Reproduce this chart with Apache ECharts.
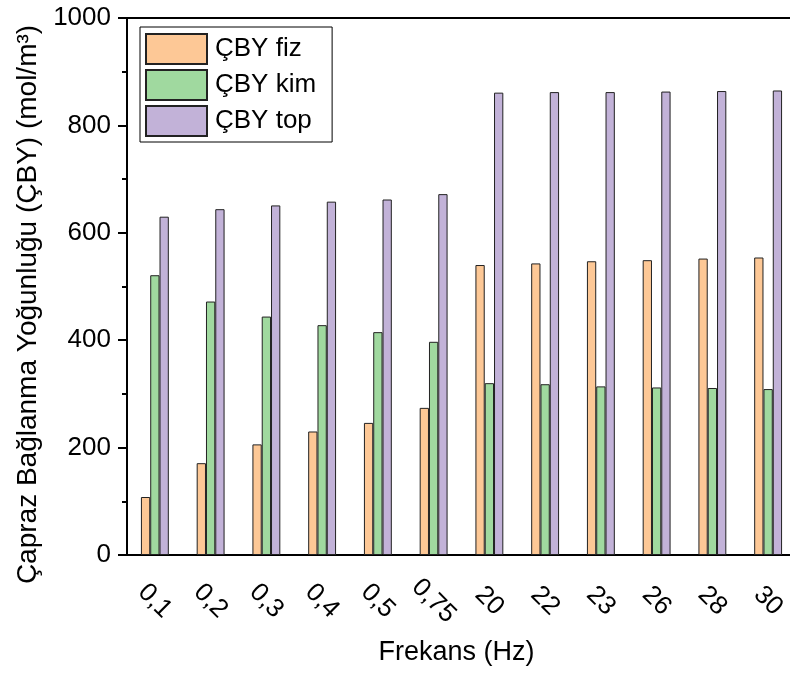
<!DOCTYPE html>
<html>
<head>
<meta charset="utf-8">
<script src="https://cdn.jsdelivr.net/npm/echarts@6/dist/echarts.min.js"></script>
<style>
  html, body { margin: 0; padding: 0; background: #fff; }
  #chart { width: 790px; height: 675px; }
</style>
</head>
<body>
<div id="chart"></div>
<script>
const categories = ['0,1', '0,2', '0,3', '0,4', '0,5', '0,75', '20', '22', '23', '26', '28', '30']
const cbyFiz = [108, 171, 206, 230, 246, 274, 540, 543, 547, 549, 552, 554]
const cbyKim = [521, 472, 444, 428, 415, 397, 320, 318, 314, 312, 311, 309]
const cbyTop = [630, 644, 651, 658, 662, 672, 861, 862, 862, 863, 864, 865]
const yTicks = [0, 200, 400, 600, 800, 1000]

const font = '"Liberation Sans", Arial, sans-serif'
const barBorder = { borderColor: '#222', borderWidth: 1 }
const axisText = { fontSize: 26, fontFamily: font, color: '#000' }

let chart = echarts.init(document.getElementById('chart'))
chart.setOption({
  animation: false,
  textStyle: { fontFamily: font, color: '#000' },
  grid: {
    left: 127, top: 18, right: -6, bottom: 120,
    outerBoundsMode: 'none',
    containLabel: false
  },
  legend: {
    orient: 'vertical',
    left: 140, top: 27,
    padding: [6, 16, 5, 5],
    itemGap: 4,
    itemWidth: 61, itemHeight: 30,
    borderColor: '#000', borderWidth: 1,
    icon: 'rect',
    textStyle: { fontSize: 26, lineHeight: 30, fontFamily: font, color: '#000', padding: [0, 0, 0, 3] },
    data: ['ÇBY fiz', 'ÇBY kim', 'ÇBY top']
  },
  xAxis: [
    {
      type: 'category',
      data: categories,
      name: 'Frekans (Hz)',
      nameLocation: 'middle',
      nameGap: 84,
      nameTextStyle: { fontSize: 27, fontFamily: font, color: '#000', padding: [0, 10, 0, 0] },
      axisLine: { lineStyle: { color: '#000', width: 2 } },
      axisTick: { alignWithLabel: true, length: 9, lineStyle: { color: '#000', width: 2 } },
      axisLabel: Object.assign({ rotate: -45, align: 'center', verticalAlign: 'middle', margin: 46 }, axisText),
      splitLine: { show: false }
    },
    {
      type: 'category',
      data: categories,
      position: 'bottom',
      axisLine: { show: false },
      axisTick: { length: 5, lineStyle: { color: '#000', width: 2 } },
      axisLabel: { show: false },
      splitLine: { show: false }
    },
    {
      type: 'category',
      data: categories,
      position: 'top',
      axisLine: { show: true, onZero: false, lineStyle: { color: '#000', width: 2 } },
      axisTick: { show: false },
      axisLabel: { show: false },
      splitLine: { show: false }
    }
  ],
  yAxis: {
    type: 'value',
    min: yTicks[0], max: yTicks[yTicks.length - 1], interval: 200,
    name: 'Çapraz Bağlanma Yoğunluğu (ÇBY) (mol/m³)',
    nameLocation: 'middle',
    nameGap: 78,
    nameTextStyle: { fontSize: 28, fontFamily: font, color: '#000', padding: [0, 36, 0, 0] },
    axisLine: { show: true, lineStyle: { color: '#000', width: 2 } },
    axisTick: { show: true, length: 9, lineStyle: { color: '#000', width: 2 } },
    minorTick: { show: true, splitNumber: 2, length: 5, lineStyle: { color: '#000', width: 2 } },
    axisLabel: Object.assign({ margin: 16, formatter: (v) => String(v) }, axisText),
    splitLine: { show: false }
  },
  series: [
    {
      name: 'ÇBY fiz', type: 'bar', data: cbyFiz,
      barWidth: 9.3, barGap: '0%',
      itemStyle: Object.assign({ color: '#fdc896' }, barBorder)
    },
    {
      name: 'ÇBY kim', type: 'bar', data: cbyKim,
      barWidth: 9.3, barGap: '0%',
      itemStyle: Object.assign({ color: '#a0d99f' }, barBorder)
    },
    {
      name: 'ÇBY top', type: 'bar', data: cbyTop,
      barWidth: 9.3, barGap: '0%',
      itemStyle: Object.assign({ color: '#c2b2d8' }, barBorder)
    }
  ]
})
</script>
</body>
</html>
